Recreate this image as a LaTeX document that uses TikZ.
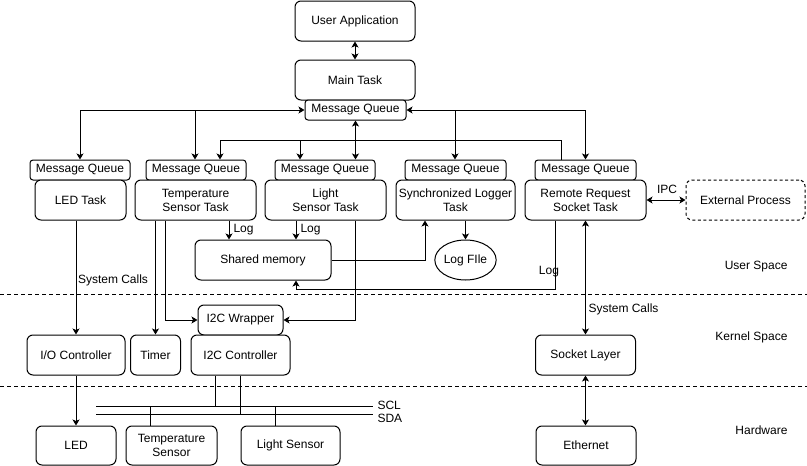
\documentclass[tikz,border=0pt]{standalone}
\usepackage{fontspec}
\setmainfont{Liberation Sans}
\usetikzlibrary{arrows.meta,shapes.geometric,calc}
\begin{document}
\begin{tikzpicture}[x=1pt,y=-1pt,line width=1pt,
  font=\fontsize{12}{14}\selectfont,
  box/.style={draw, fill=white, rounded corners=6pt, align=center, inner sep=0pt},
  mqbox/.style={draw, fill=white, rounded corners=3pt, align=center, inner sep=0pt, minimum height=20pt},
  sz/.style 2 args={minimum width=#1pt, minimum height=#2pt},
  arr/.style={-{Stealth[length=6pt,width=7pt,inset=1.5pt]}},
  darr/.style={{Stealth[length=6pt,width=7pt,inset=1.5pt]}-{Stealth[length=6pt,width=7pt,inset=1.5pt]}},
  sepline/.style={dash pattern=on 4pt off 3pt, line width=0.8pt},
  lbl/.style={inner sep=0pt}
]
\useasboundingbox (0,0) rectangle (807,466);

% separators
\coordinate (s1l) at (0,294.3); \coordinate (s1r) at (807,294.3);
\coordinate (s2l) at (0,386); \coordinate (s2r) at (807,386);
\draw[sepline] (s1l) -- (s1r);
\draw[sepline] (s2l) -- (s2r);

% top
\node[box, sz={120}{40}] (ua) at (355,21) {User Application};
\node[box, sz={120}{40}] (main) at (355,80) {Main Task};
\node[mqbox, minimum width=101pt] (mq0) at (355.5,110) {Message Queue};

% message queues
\node[mqbox, minimum width=100pt] (mq1) at (80,170) {Message Queue};
\node[mqbox, minimum width=100pt] (mq2) at (196,170) {Message Queue};
\node[mqbox, minimum width=100pt] (mq3) at (325,170) {Message Queue};
\node[mqbox, minimum width=101pt] (mq4) at (455.5,170) {Message Queue};
\node[mqbox, minimum width=101pt] (mq5) at (585.5,170) {Message Queue};

% tasks
\node[box, sz={91}{40}] (t1) at (80.5,200) {LED Task};
\node[box, sz={121}{40}] (t2) at (195.5,200) {Temperature\\Sensor Task};
\node[box, sz={121}{40}] (t3) at (325.5,200) {Light\\Sensor Task};
\node[box, sz={119}{40}] (t4) at (455.5,200) {Synchronized Logger\\Task};
\node[box, sz={121}{40}] (t5) at (585.5,200) {Remote Request\\Socket Task};
\node[box, sz={119}{40}, dash pattern=on 3pt off 2.5pt] (ext) at (745.5,200) {External Process};

\node[box, sz={136}{40}] (shm) at (263,260) {Shared memory};
\node[draw, fill=white, ellipse, inner sep=0pt, minimum width=61pt, minimum height=40pt] (logf) at (465.5,260) {Log FIle};

% kernel
\node[box, sz={85}{30}] (wrap) at (240.5,320) {I2C Wrapper};
\node[box, sz={98}{40}] (io) at (76,355) {I/O Controller};
\node[box, sz={50}{40}] (timer) at (155.5,355) {Timer};
\node[box, sz={99}{40}] (i2c) at (240.5,355) {I2C Controller};
\node[box, sz={100}{40}] (sock) at (585.5,355) {Socket Layer};

% hardware
\node[box, sz={80}{39}] (led) at (76,445.5) {LED};
\node[box, sz={91}{39}] (tsens) at (171.5,445.5) {Temperature\\Sensor};
\node[box, sz={99}{39}] (lsens) at (290.5,445.5) {Light Sensor};
\node[box, sz={100}{39}] (eth) at (586,445.5) {Ethernet};

% column coordinates
\coordinate (busL) at (220,140.7);
\coordinate (busM) at (300,140.7);
\coordinate (busR) at (561,140.7);
\coordinate (mqL) at (195,110);
\coordinate (mqR) at (455,110);
\coordinate (cA) at (229,0);
\coordinate (cD) at (296,0);
\coordinate (cB) at (425,0);
\coordinate (cC) at (555,289);
\coordinate (cE) at (165.7,0);
\coordinate (cF) at (355,0);
\coordinate (sclL) at (96,406); \coordinate (sclR) at (373,406);
\coordinate (sdaL) at (96,414); \coordinate (sdaR) at (373,414);
\coordinate (g1) at (215.7,0);
\coordinate (g2) at (240.7,0);
\coordinate (g3) at (150.7,0);
\coordinate (g4) at (275,0);

% connectors top
\draw[darr] (ua) -- (main);
\draw[darr] (mq1.north) |- (mq0.west);
\draw[arr] (mqL) -- (mqL |- mq2.north);
\draw[darr] (mq5.north) |- (mq0.east);
\draw[arr] (mqR) -- (mqR |- mq4.north);
\draw[arr] (mq5.north -| busR) -- (busR) -- (busL) -- (busL |- mq2.north);
\draw[arr] (busM) -- (busM |- mq3.north);
\draw[darr] (mq0.south) -- (mq0.south |- mq3.north);

% IPC
\draw[darr] (t5.east) -- (ext.west);
\node[lbl] (ipc) at (667,189) {IPC};

% logs
\draw[arr] (t2.south -| cA) -- (shm.north -| cA);
\node[lbl, anchor=west] (log1) at (233,230) {Log};
\draw[arr] (t3.south -| cD) -- (shm.north -| cD);
\node[lbl, anchor=west] (log2) at (300,230) {Log};
\draw[arr] (shm.east) -| (cB |- t4.south);
\draw[arr] (logf.north |- t4.south) -- (logf.north);
\draw[arr] (t5.south -| cC) -- (cC) -| (shm.south -| cD);
\node[lbl] (log3) at (549,272) {Log};

% system calls
\draw[arr] (io.north |- t1.south) -- (io.north);
\node[lbl, anchor=west] (sc1) at (77.5,280) {System Calls};
\draw[darr] (t5.south) -- (sock.north);
\node[lbl, anchor=west] (sc2) at (588,309) {System Calls};

\draw[arr] (timer.north |- t2.south) -- (timer.north);
\draw[arr] (t2.south -| cE) |- (wrap.west);
\draw[arr] (t3.south -| cF) |- (wrap.east);

% hardware links
\draw[arr] (io.south) -- (led.north);
\draw[darr] (sock.south) -- (eth.north -| sock.south);

% I2C bus
\draw (sclL) -- (sclR);
\draw (sdaL) -- (sdaR);
\node[lbl, anchor=west] (scl) at (377,405) {SCL};
\node[lbl, anchor=west] (sda) at (377,418.5) {SDA};
\draw (i2c.south -| g1) -- (sclL -| g1);
\draw (i2c.south -| g2) -- (sdaL -| g2);
\draw (tsens.north -| g3) -- (sclL -| g3);
\draw (lsens.north -| g4) -- (sclL -| g4);

% region labels
\node[lbl, anchor=east] (us) at (788,267) {User Space};
\node[lbl, anchor=east] (ks) at (788,337) {Kernel Space};
\node[lbl, anchor=east] (hw) at (788,430) {Hardware};
\end{tikzpicture}
\end{document}
